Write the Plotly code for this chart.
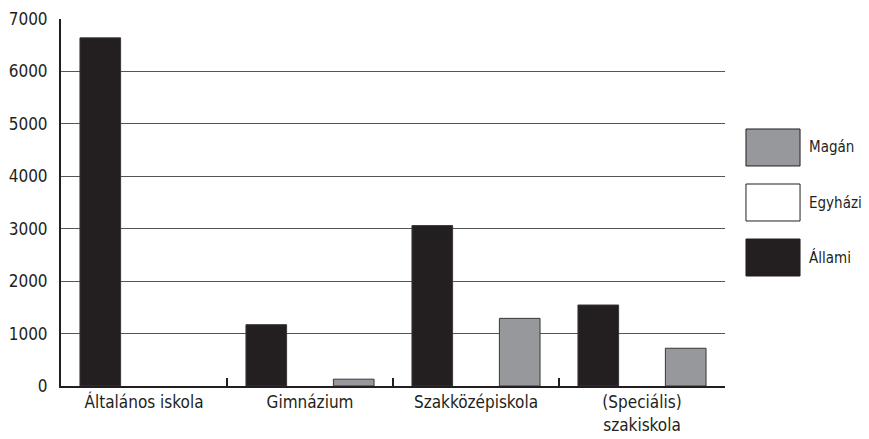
import plotly.graph_objects as go

categories = ["Általános iskola", "Gimnázium", "Szakközépiskola", "(Speciális)<br>szakiskola"]
allami = [6640, 1170, 3060, 1545]
egyhazi = [0, 0, 0, 0]
magan = [0, 130, 1290, 720]
y_ticks = [0, 1000, 2000, 3000, 4000, 5000, 6000, 7000]

FONT = "DejaVu Sans Condensed, Liberation Sans Narrow, Roboto Condensed, sans-serif"
TXT = "#231f20"
BLACK = "#231f20"
GREY = "#97989b"
FS = 17
LEG_FS = 15

fig = go.Figure()
series = [("Állami", allami, BLACK), ("Egyházi", egyhazi, "#ffffff"), ("Magán", magan, GREY)]
for name, vals, col in series:
    fig.add_trace(go.Bar(
        x=categories, y=vals, name=name,
        marker=dict(color=col, line=dict(color="#3a3738",
                                         width=[1 if v > 0 else 0 for v in vals])),
        showlegend=False,
    ))

legend_items = [("Magán", GREY), ("Egyházi", "#ffffff"), ("Állami", BLACK)]
box_x0, box_x1 = 1.0316, 1.113
y_top = 0.7003
box_h = 0.1008
step = 0.1499
for i, (name, col) in enumerate(legend_items):
    y1 = y_top - i * step
    y0 = y1 - box_h
    fig.add_shape(type="rect", xref="paper", yref="paper",
                  x0=box_x0, x1=box_x1, y0=y0, y1=y1,
                  fillcolor=col, line=dict(color="#231f20", width=1))
    fig.add_annotation(xref="paper", yref="paper", x=1.1235, y=(y0 + y1) / 2,
                       text=name, showarrow=False, xanchor="left", yanchor="middle",
                       font=dict(family=FONT, size=LEG_FS, color=TXT))

# page body has an 8px margin, so the figure is sized 8px smaller
fig.update_layout(
    width=861, height=431,
    margin=dict(l=53, r=144, t=11, b=53, autoexpand=False),
    paper_bgcolor="white", plot_bgcolor="white",
    barmode="group", bargap=0.21, bargroupgap=0.07,
    font=dict(family=FONT, size=FS, color=TXT),
    showlegend=False,
)
fig.update_yaxes(
    range=[0, 7000], tickvals=y_ticks, ticktext=[str(v) for v in y_ticks],
    showgrid=True, gridcolor="#555555", gridwidth=1,
    showline=True, linecolor="#231f20", linewidth=2,
    ticks="", ticklabelstandoff=8, zeroline=False, automargin=False,
    tickfont=dict(family=FONT, size=FS, color=TXT),
)
fig.update_xaxes(
    showline=True, linecolor="#231f20", linewidth=2,
    ticks="inside", tickson="boundaries", ticklen=8, tickwidth=2, tickcolor="#231f20",
    showgrid=False, automargin=False,
    tickfont=dict(family=FONT, size=FS, color=TXT),
)

fig.write_html("out.html")
